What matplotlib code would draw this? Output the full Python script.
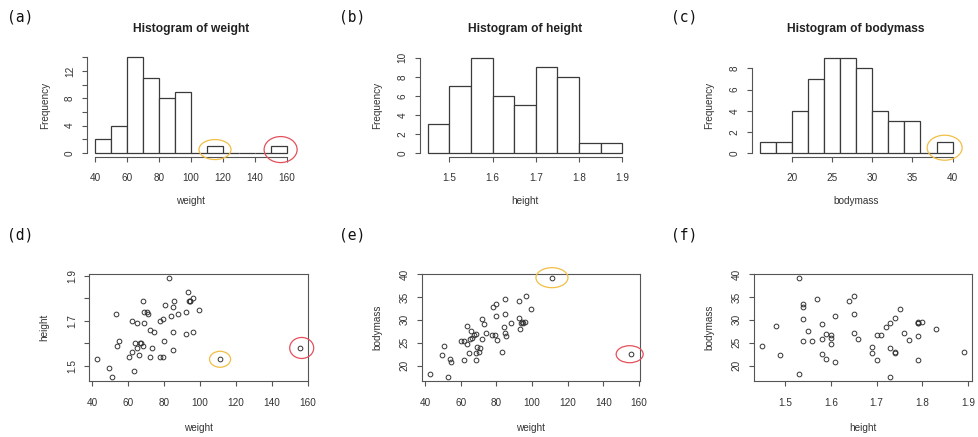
import numpy as np
import matplotlib
matplotlib.use('Agg')
import matplotlib.pyplot as plt
from matplotlib.patches import Ellipse

# ---------------- data (50 subjects) ----------------
weight = [83.0, 93.3, 68.4, 85.4, 93.8, 94.3, 94.7, 96.3, 80.3, 85.0,
          99.4, 68.6, 70.5, 70.9, 53.1, 92.5, 88.0, 84.1, 79.2, 77.8,
          61.9, 64.7, 68.9, 71.9, 74.2, 85.1, 92.5, 96.4, 79.7, 54.7,
          53.8, 63.6, 66.5, 67.2, 65.0, 68.3, 73.0, 62.0, 60.3, 66.0,
          72.0, 79.6, 77.9, 85.0, 42.8, 111.2, 155.8, 49.5, 63.3, 50.9]
height = [1.89, 1.83, 1.79, 1.79, 1.79, 1.79, 1.79, 1.80, 1.77, 1.76,
          1.75, 1.74, 1.74, 1.73, 1.73, 1.74, 1.73, 1.72, 1.71, 1.70,
          1.70, 1.69, 1.69, 1.66, 1.65, 1.65, 1.64, 1.65, 1.61, 1.61,
          1.59, 1.60, 1.60, 1.60, 1.58, 1.59, 1.58, 1.56, 1.54, 1.55,
          1.54, 1.54, 1.54, 1.57, 1.53, 1.53, 1.58, 1.49, 1.48, 1.45]
bodymass = [22.9, 27.9, 21.3, 26.5, 29.4, 29.5, 29.4, 29.6, 25.6, 27.2,
            32.4, 22.7, 23.0, 23.9, 17.5, 30.5, 29.4, 28.4, 26.8, 26.8,
            21.3, 22.8, 24.1, 25.8, 27.2, 31.2, 34.2, 35.3, 30.8, 20.9,
            21.4, 24.7, 26.0, 26.6, 25.8, 26.9, 29.2, 25.4, 25.4, 27.5,
            30.2, 33.5, 32.7, 34.5, 18.2, 39.2, 22.5, 22.3, 28.7, 24.3]

weight_breaks = [40, 50, 60, 70, 80, 90, 100, 110, 120, 130, 140, 150, 160]
height_breaks = [1.45, 1.50, 1.55, 1.60, 1.65, 1.70, 1.75, 1.80, 1.85, 1.90]
bodymass_breaks = [16, 18, 20, 22, 24, 26, 28, 30, 32, 34, 36, 38, 40]

# highlighted subjects (indices into the arrays above)
yellow_idx = 45
red_idx = 46

panel_labels = ['(a)', '(b)', '(c)', '(d)', '(e)', '(f)']

# ---------------- style ----------------
plt.rcParams['font.family'] = ['Liberation Sans', 'DejaVu Sans']
W, H = 979, 437
AX = '#555555'
TX = '#333333'
BAR = '#3a3a3a'
YEL = '#F2BE45'
RED = '#E4505C'
FS = 7.2

fig = plt.figure(figsize=(W / 100, H / 100), dpi=100)
fig.patch.set_facecolor('white')


def add_ax(L, R, T, B):
    return fig.add_axes([L / W, 1 - B / H, (R - L) / W, (B - T) / H])


def r_lim(lo, hi):
    d = (hi - lo) * 0.04
    return lo - d, hi + d


def right_closed_counts(x, breaks):
    x = np.asarray(x, dtype=float)
    b = np.asarray(breaks, dtype=float)
    idx = np.searchsorted(b, x, side='left') - 1
    idx = np.clip(idx, 0, len(b) - 2)
    return np.bincount(idx, minlength=len(b) - 1)


def fmt(v):
    s = ('%g' % v)
    return s


def style(ax, xticks, yticks, ylab_show, xpad, ypad, box):
    ax.set_xticks(xticks)
    ax.set_xticklabels([fmt(v) for v in xticks])
    ax.set_yticks(yticks)
    ax.set_yticklabels([fmt(v) if v in ylab_show else '' for v in yticks],
                       rotation=90, va='center')
    ax.tick_params(direction='out', length=3.6, width=0.8, color=AX,
                   labelsize=FS, labelcolor=TX)
    ax.tick_params(axis='x', pad=xpad)
    ax.tick_params(axis='y', pad=ypad)
    for s in ax.spines.values():
        s.set_color(AX)
        s.set_linewidth(0.8)
    if not box:
        ax.spines['top'].set_visible(False)
        ax.spines['right'].set_visible(False)
        ax.spines['left'].set_bounds(yticks[0], yticks[-1])
        ax.spines['bottom'].set_bounds(xticks[0], xticks[-1])


def labels(ax, L, R, T, B, xlabel, ylabel, xl_py, yl_px, title=None):
    ax.set_xlabel(xlabel, fontsize=FS, color=TX, va='center')
    ax.xaxis.set_label_coords(0.5, (B - xl_py) / (B - T))
    ax.set_ylabel(ylabel, fontsize=FS, color=TX, va='center')
    ax.yaxis.set_label_coords((yl_px - L) / (R - L), 0.5)
    if title:
        ax.text(0.5, (B - 29.3) / (B - T), title, transform=ax.transAxes,
                ha='center', va='center', fontsize=8.64, fontweight='bold',
                color='#222222')


def ellipse(ax, L, R, T, B, cx, cy, wpx, hpx, color):
    x0, x1 = ax.get_xlim()
    y0, y1 = ax.get_ylim()
    w = wpx * (x1 - x0) / (R - L)
    h = hpx * (y1 - y0) / (B - T)
    e = Ellipse((cx, cy), w, h, fill=False, edgecolor=color, linewidth=0.9,
                clip_on=False, zorder=5)
    ax.add_patch(e)


# ---------------- histograms (top row) ----------------
hist_specs = [
    (weight, weight_breaks, 'weight', (87.3, 294.7, 53.6, 156.8),
     list(range(40, 161, 20)), list(range(0, 15, 2)), [0, 4, 8, 12]),
    (height, height_breaks, 'height', (419.9, 630.1, 53.9, 156.8),
     [1.5, 1.6, 1.7, 1.8, 1.9], list(range(0, 11, 2)), list(range(0, 11, 2))),
    (bodymass, bodymass_breaks, 'bodymass', (751.8, 960.4, 54.0, 156.8),
     [20, 25, 30, 35, 40], list(range(0, 9, 2)), list(range(0, 9, 2))),
]

hist_axes = []
for data, breaks, name, (L, R, T, B), xt, yt, ys in hist_specs:
    ax = add_ax(L, R, T, B)
    counts = right_closed_counts(data, breaks)
    b = np.asarray(breaks, dtype=float)
    ax.bar(b[:-1], counts, width=np.diff(b), align='edge', facecolor='white',
           edgecolor=BAR, linewidth=0.9)
    ax.set_xlim(r_lim(b[0], b[-1]))
    ax.set_ylim(r_lim(0, counts.max()))
    style(ax, xt, yt, ys, xpad=8.0, ypad=5.4, box=False)
    labels(ax, L, R, T, B, name, 'Frequency', 201, L - 42.5,
           title='Histogram of ' + name)
    hist_axes.append((ax, breaks, counts, (L, R, T, B)))


def bin_center(breaks, counts, v):
    b = np.asarray(breaks, dtype=float)
    i = int(np.clip(np.searchsorted(b, v, side='left') - 1, 0, len(b) - 2))
    return (b[i] + b[i + 1]) / 2, counts[i] / 2


ax, br, ct, box = hist_axes[0]
cx, cy = bin_center(br, ct, weight[yellow_idx])
ellipse(ax, *box, cx, cy, 32, 20, YEL)
cx, cy = bin_center(br, ct, weight[red_idx])
ellipse(ax, *box, cx + 1.0, cy, 33, 26, RED)
ax, br, ct, box = hist_axes[2]
cx, cy = bin_center(br, ct, bodymass[yellow_idx])
ellipse(ax, *box, cx, cy, 35, 25, YEL)

# ---------------- scatter plots (bottom row) ----------------
scatter_specs = [
    (weight, height, 'weight', 'height', (89.2, 308.2, 274.0, 381.3),
     list(range(40, 161, 20)), [1.5, 1.6, 1.7, 1.8, 1.9], [1.5, 1.7, 1.9],
     (32, 20 * 0 + 16, 24, 21), (21, 16)),
    (weight, bodymass, 'weight', 'bodymass', (422.0, 639.5, 273.7, 381.1),
     list(range(40, 161, 20)), [20, 25, 30, 35, 40], [20, 25, 30, 35, 40],
     None, None),
    (height, bodymass, 'height', 'bodymass', (754.0, 971.8, 273.7, 381.1),
     [1.5, 1.6, 1.7, 1.8, 1.9], [20, 25, 30, 35, 40], [20, 25, 30, 35, 40],
     None, None),
]

sc_axes = []
for xd, yd, xn, yn, (L, R, T, B), xt, yt, ys, _a, _b in scatter_specs:
    ax = add_ax(L, R, T, B)
    ax.plot(xd, yd, linestyle='none', marker='o', markersize=3.4,
            markerfacecolor='none', markeredgecolor='#333333',
            markeredgewidth=0.7)
    ax.set_xlim(r_lim(min(xd), max(xd)))
    ax.set_ylim(r_lim(min(yd), max(yd)))
    style(ax, xt, yt, ys, xpad=8.6, ypad=5.2, box=True)
    labels(ax, L, R, T, B, xn, yn, 428.3, L - 44.5)
    sc_axes.append((ax, (L, R, T, B)))

ax, box = sc_axes[0]
ellipse(ax, *box, weight[yellow_idx], height[yellow_idx], 21, 16, YEL)
ellipse(ax, *box, weight[red_idx] + 0.9, height[red_idx], 24, 21, RED)
ax, box = sc_axes[1]
ellipse(ax, *box, weight[yellow_idx], bodymass[yellow_idx], 32, 20, YEL)
ellipse(ax, *box, weight[red_idx] - 1.0, bodymass[red_idx], 27, 17, RED)

# ---------------- panel labels ----------------
pl_pos = [(20, 16.7), (351.7, 16.7), (684.3, 16.7),
          (20, 235), (351.7, 235), (684.3, 235)]
for lab, (px, py) in zip(panel_labels, pl_pos):
    fig.text(px / W, 1 - py / H, lab, ha='center', va='center',
             fontsize=10.5, family=['DejaVu Sans Mono', 'DejaVu Sans'],
             color='#111111')

fig.savefig('out.png', dpi=100)
